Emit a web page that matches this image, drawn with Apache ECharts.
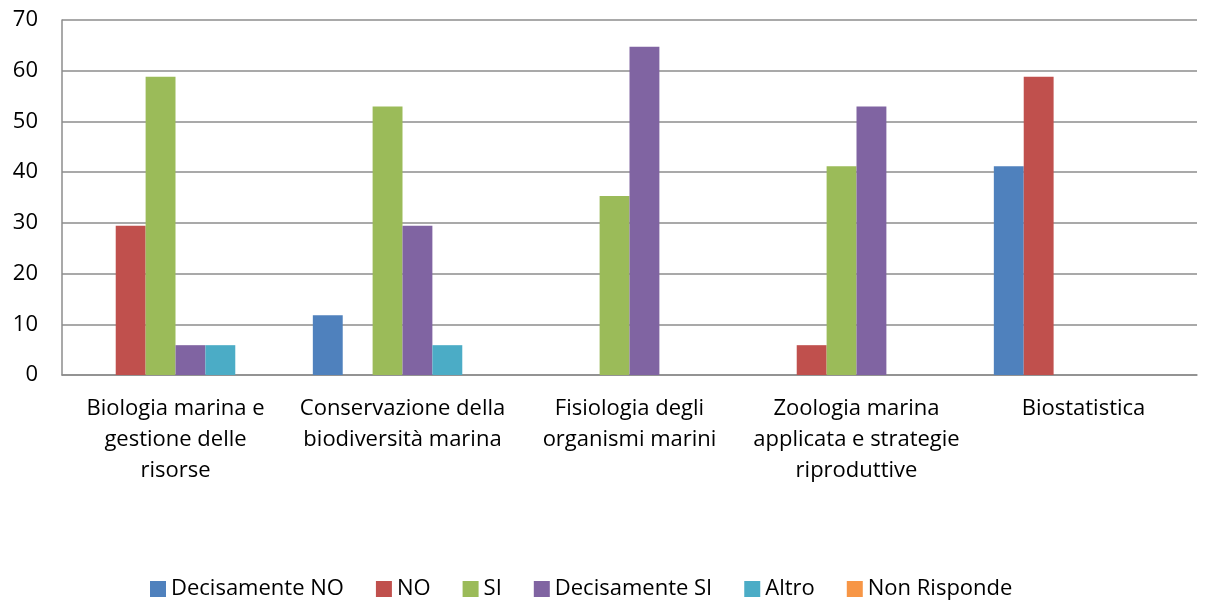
<!DOCTYPE html>
<html>
<head>
<meta charset="utf-8">
<script src="https://cdn.jsdelivr.net/npm/echarts@6/dist/echarts.min.js"></script>
<style>
  html, body { margin: 0; padding: 0; background: #fff; }
  #chart { width: 1205px; height: 605px; }
</style>
</head>
<body>
<div id="chart"></div>
<script>
// categories and series (percentages)
const categories = [
  'Biologia marina e\ngestione delle\nrisorse',
  'Conservazione della\nbiodiversità marina',
  'Fisiologia degli\norganismi marini',
  'Zoologia marina\napplicata e strategie\nriproduttive',
  'Biostatistica',
];
const decisamenteNo = [0, 11.76, 0, 0, 41.18];
const no            = [29.41, 0, 0, 5.88, 58.82];
const si            = [58.82, 52.94, 35.29, 41.18, 0];
const decisamenteSi = [5.88, 29.41, 64.71, 52.94, 0];
const altro         = [5.88, 5.88, 0, 0, 0];
const nonRisponde   = [0, 0, 0, 0, 0];

const FONT = 'Open Sans';
const GRID_COLOR = '#8c8c8c';

const seriesDefs = [
  { name: 'Decisamente NO', data: decisamenteNo, color: '#4F81BD' },
  { name: 'NO',             data: no,            color: '#C0504D' },
  { name: 'SI',             data: si,            color: '#9BBB59' },
  { name: 'Decisamente SI', data: decisamenteSi, color: '#8064A2' },
  { name: 'Altro',          data: altro,         color: '#4BACC6' },
  { name: 'Non Risponde',   data: nonRisponde,   color: '#F79646' },
];

const c = echarts.init(document.getElementById('chart'), null, { renderer: 'canvas' });
c.setOption({
  animation: false,
  textStyle: { fontFamily: FONT, color: '#000' },
  grid: { left: 62, right: 8, top: 20, bottom: 230 },
  legend: {
    bottom: 0, left: 145,
    icon: 'rect', itemWidth: 16, itemHeight: 16, itemGap: 32,
    textStyle: { fontFamily: FONT, fontSize: 22, color: '#000' },
    data: seriesDefs.map(s => s.name),
  },
  xAxis: {
    type: 'category', data: categories,
    axisLine: { lineStyle: { color: GRID_COLOR, width: 1.5 } },
    axisTick: { show: false },
    axisLabel: { interval: 0, fontSize: 22, color: '#000', lineHeight: 31, margin: 18, fontFamily: FONT },
  },
  yAxis: {
    type: 'value', min: 0, max: 70, interval: 10,
    axisLine: { show: true, lineStyle: { color: GRID_COLOR, width: 1.5 } },
    axisTick: { show: false },
    splitLine: { lineStyle: { color: GRID_COLOR, width: 1.5 } },
    axisLabel: { fontSize: 22, color: '#000', margin: 24, fontFamily: FONT },
  },
  series: seriesDefs.map(s => ({
    name: s.name, type: 'bar', data: s.data,
    barGap: '0%', barCategoryGap: '21%',
    itemStyle: { color: s.color },
  })),
});
</script>
</body>
</html>
